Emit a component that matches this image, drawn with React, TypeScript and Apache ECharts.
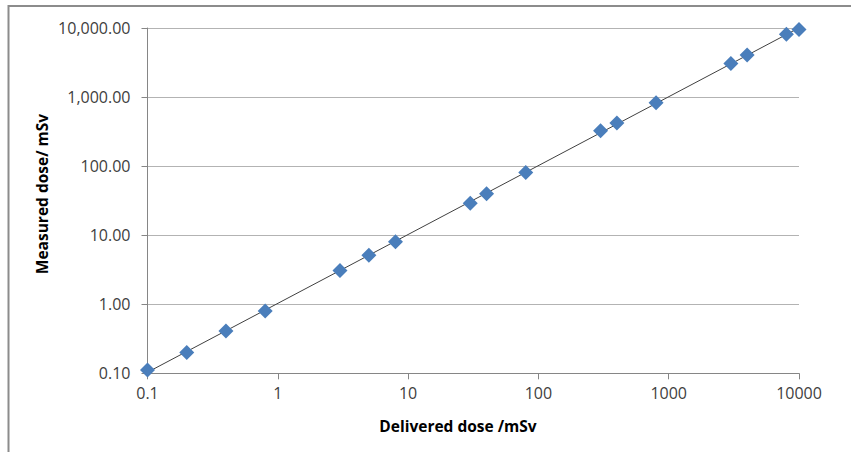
import React, { useEffect, useRef } from "react";
import * as echarts from "echarts";

const deliveredDose = [0.1, 0.2, 0.4, 0.8, 3, 5, 8, 30, 40, 80, 300, 400, 800, 3000, 4000, 8000, 10000];
const measuredDose = [0.112, 0.2, 0.41, 0.8, 3.07, 5.13, 8.0, 29, 39.8, 81, 326, 420, 830, 3050, 4060, 8100, 9500];
const xTitle = "Delivered dose /mSv";
const yTitle = "Measured dose/ mSv";

const FONT = "'Open Sans', 'Liberation Sans', sans-serif";

function powerFit(xs: number[], ys: number[]) {
  const n = xs.length;
  const lx = xs.map(Math.log10);
  const ly = ys.map(Math.log10);
  const mx = lx.reduce((a, b) => a + b, 0) / n;
  const my = ly.reduce((a, b) => a + b, 0) / n;
  let sxy = 0, sxx = 0;
  for (let i = 0; i < n; i++) {
    sxy += (lx[i] - mx) * (ly[i] - my);
    sxx += (lx[i] - mx) * (lx[i] - mx);
  }
  const b = sxy / sxx;
  const a = my - b * mx;
  return (x: number) => Math.pow(10, a + b * Math.log10(x));
}

export default function App() {
  const ref = useRef<HTMLDivElement>(null);
  useEffect(() => {
    if (!ref.current) return;
    const chart = echarts.init(ref.current, null, { renderer: "svg" });
    const fit = powerFit(deliveredDose, measuredDose);
    const xMin = Math.min(...deliveredDose);
    const xMax = Math.max(...deliveredDose);
    const trend = [[xMin, fit(xMin)], [xMax, fit(xMax)]];
    const clean = (v: number) => Number(v.toPrecision(6));
    chart.setOption({
      animation: false,
      backgroundColor: "#ffffff",
      grid: { left: 147.5, right: 52, top: 28, bottom: 78.7, containLabel: false },
      xAxis: {
        type: "log",
        logBase: 10,
        min: 0.1,
        max: 10000,
        axisLine: { show: true, lineStyle: { color: "#868686", width: 1 } },
        axisTick: { show: true, length: 6, lineStyle: { color: "#868686" } },
        splitLine: { show: false },
        minorTick: { show: false },
        axisLabel: {
          margin: 12,
          color: "#404040",
          fontFamily: FONT,
          fontSize: 16,
          formatter: (v: number) => String(clean(v)),
        },
      },
      yAxis: {
        type: "log",
        logBase: 10,
        min: 0.1,
        max: 10000,
        axisLine: { show: true, lineStyle: { color: "#868686", width: 1 } },
        axisTick: { show: true, length: 6, lineStyle: { color: "#868686" } },
        splitLine: { show: true, lineStyle: { color: "#b3b3b3", width: 1 } },
        axisLabel: {
          margin: 17,
          color: "#404040",
          fontFamily: FONT,
          fontSize: 16,
          formatter: (v: number) =>
            clean(v).toLocaleString("en-US", { minimumFractionDigits: 2, maximumFractionDigits: 2 }),
        },
      },
      series: [
        {
          type: "line",
          data: trend,
          showSymbol: false,
          symbol: "none",
          lineStyle: { color: "#404040", width: 1 },
          z: 1,
          silent: true,
        },
        {
          type: "scatter",
          data: deliveredDose.map((x, i) => [x, measuredDose[i]]),
          symbol: "diamond",
          symbolSize: [15, 15],
          itemStyle: { color: "#4a7ebb", opacity: 1 },
          z: 3,
        },
      ],
      graphic: [
        {
          type: "rect",
          shape: { x: 8.5, y: 6, width: 900, height: 500 },
          style: { fill: "none", stroke: "#8c8c8c", lineWidth: 2 },
          silent: true,
        },
        {
          type: "text",
          x: 458,
          y: 426,
          style: {
            text: xTitle,
            fontFamily: FONT,
            fontSize: 15.5,
            fontWeight: "bold",
            fill: "#000000",
            textAlign: "center",
            textVerticalAlign: "middle",
          },
        },
        {
          type: "text",
          x: 42,
          y: 194,
          rotation: Math.PI / 2,
          style: {
            text: yTitle,
            fontFamily: FONT,
            fontSize: 15.5,
            fontWeight: "bold",
            fill: "#000000",
            textAlign: "center",
            textVerticalAlign: "middle",
          },
        },
      ],
    });
    return () => chart.dispose();
  }, []);
  return (
    <div
      ref={ref}
      style={{ position: "fixed", left: 0, top: 0, width: 851, height: 452 }}
    />
  );
}
